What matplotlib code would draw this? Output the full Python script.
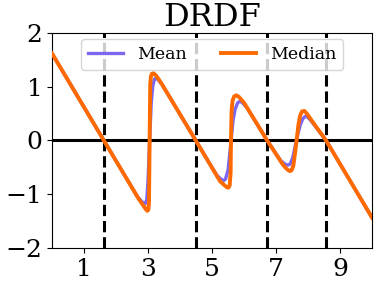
import matplotlib
matplotlib.use('Agg')
import matplotlib.pyplot as plt

plt.rcParams['font.family'] = ['DejaVu Serif']

# surface positions (dashed lines)
surfaces = [1.62, 4.49, 6.72, 8.56]

# mean prediction
mean_x = [0.0, 1.62, 2.65, 2.78, 2.86, 2.91, 2.96, 3.00, 3.05, 3.10, 3.15, 3.20, 3.24,
          3.30, 3.45, 4.49, 5.15, 5.28, 5.36, 5.42, 5.50, 5.58, 5.65, 5.72, 5.80, 5.87,
          5.95, 6.10, 6.72, 7.15, 7.28, 7.37, 7.44, 7.52, 7.60, 7.68, 7.76, 7.84, 7.92,
          7.98, 8.10, 8.56, 10.0]
mean_y = [1.62, 0.0, -1.03, -1.12, -1.17, -1.18, -1.10, -0.75, 0.0, 0.70, 1.02, 1.14, 1.16,
          1.14, 1.03, 0.0, -0.65, -0.72, -0.75, -0.72, -0.55, -0.10, 0.35, 0.58, 0.70, 0.73,
          0.70, 0.60, 0.0, -0.38, -0.44, -0.46, -0.44, -0.32, -0.10, 0.12, 0.30, 0.41, 0.45,
          0.44, 0.36, 0.0, -1.44]

# median prediction
median_x = [0.0, 1.62, 2.70, 2.85, 2.93, 2.98, 3.01, 3.03, 3.04, 3.05, 3.06, 3.07, 3.09,
            3.12, 3.17, 3.25, 3.40, 4.49, 5.25, 5.38, 5.46, 5.51, 5.55, 5.58, 5.59, 5.61,
            5.64, 5.69, 5.76, 5.84, 6.00, 6.72, 7.20, 7.33, 7.42, 7.48, 7.54, 7.60, 7.65,
            7.70, 7.75, 7.81, 7.88, 7.96, 8.10, 8.56, 10.0]
median_y = [1.62, 0.0, -1.08, -1.21, -1.28, -1.31, -1.29, -1.15, -0.60, 0.0, 0.60, 1.05, 1.19,
            1.24, 1.25, 1.21, 1.08, 0.0, -0.76, -0.83, -0.87, -0.88, -0.84, -0.60, 0.0, 0.55,
            0.74, 0.82, 0.84, 0.81, 0.70, 0.0, -0.44, -0.53, -0.57, -0.56, -0.47, -0.20, 0.05,
            0.30, 0.46, 0.54, 0.55, 0.50, 0.38, 0.0, -1.44]

fig = plt.figure(figsize=(3.74, 2.82), dpi=100)
ax = fig.add_axes([0.139, 0.121, 0.856, 0.762])

ax.axhline(0, color='black', linewidth=2.2, zorder=1)
for s in surfaces:
    ax.axvline(s, color='black', linestyle='--', linewidth=2.2, zorder=1)

ax.plot(mean_x, mean_y, color='#7b68ee', linewidth=2.4, label='Mean', zorder=2)
ax.plot(median_x, median_y, color='#ff6a00', linewidth=2.8, label='Median', zorder=3)

ax.set_xlim(0, 10)
ax.set_ylim(-2, 2)
ax.set_xticks([1, 3, 5, 7, 9])
ax.set_yticks([-2, -1, 0, 1, 2])
ax.tick_params(labelsize=18)
ax.set_title('DRDF', fontsize=23, pad=2)
ax.legend(loc='upper center', ncol=2, fontsize=12.5, borderaxespad=0.35)

fig.savefig('out.png', dpi=100)
